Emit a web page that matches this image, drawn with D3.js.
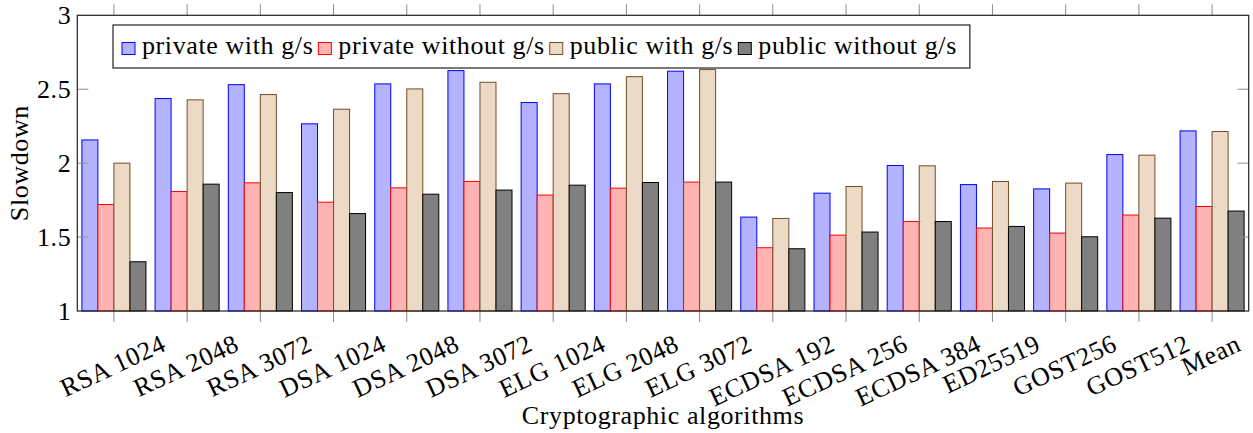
<!DOCTYPE html>
<html>
<head>
<meta charset="utf-8">
<script src="https://cdn.jsdelivr.net/npm/d3@7"></script>
<style>
  body { margin: 0; background: #fff; }
  svg { display: block; }
  text { font-family: "Liberation Serif", "DejaVu Serif", serif; fill: #000; letter-spacing: 0.6px; }
</style>
</head>
<body>
<svg id="chart"></svg>
<script>
// data
const categories = ['RSA 1024', 'RSA 2048', 'RSA 3072', 'DSA 1024', 'DSA 2048', 'DSA 3072',
  'ELG 1024', 'ELG 2048', 'ELG 3072', 'ECDSA 192', 'ECDSA 256', 'ECDSA 384',
  'ED25519', 'GOST256', 'GOST512', 'Mean'];
const seriesNames = ['private with g/s', 'private without g/s', 'public with g/s', 'public without g/s'];
const privateWith = [2.157, 2.437, 2.531, 2.266, 2.536, 2.626, 2.410, 2.536, 2.622, 1.635, 1.797, 1.984, 1.855, 1.826, 2.058, 2.218];
const privateWithout = [1.720, 1.808, 1.867, 1.736, 1.833, 1.876, 1.784, 1.831, 1.872, 1.428, 1.513, 1.605, 1.561, 1.527, 1.649, 1.707];
const publicWith = [2.000, 2.428, 2.464, 2.365, 2.502, 2.547, 2.470, 2.585, 2.633, 1.626, 1.842, 1.982, 1.876, 1.865, 2.054, 2.214];
const publicWithout = [1.333, 1.858, 1.801, 1.659, 1.790, 1.818, 1.851, 1.869, 1.872, 1.421, 1.534, 1.605, 1.572, 1.502, 1.628, 1.676];
const yTicks = [1, 1.5, 2, 2.5, 3];

const seriesValues = [privateWith, privateWithout, publicWith, publicWithout];
// pgfplots default bar cycle
const strokes = ['#0000ff', '#ff0000', '#734d26', '#000000'];
const fills = ['#b3b3ff', '#ffb3b3', '#ecd9c6', '#808080'];

const width = 1253;
const height = 433;
const plotLeft = 77.3, plotRight = 1248.7, plotTop = 15.3, plotBottom = 311;
const fontSize = 26;
const labelAngle = -25;

const svg = d3.select('#chart')
  .attr('width', width)
  .attr('height', height);

const x0 = d3.scaleBand()
  .domain(categories)
  .range([plotLeft, plotRight])
  .paddingInner(0.125)
  .paddingOuter(0.0625);

const x1 = d3.scaleBand()
  .domain(seriesNames)
  .range([0, x0.bandwidth()]);

const y = d3.scaleLinear()
  .domain([1, 3])
  .range([plotBottom, plotTop]);

// bars
const groups = svg.append('g')
  .selectAll('g')
  .data(seriesNames)
  .join('g')
  .attr('fill', (d, i) => fills[i])
  .attr('stroke', (d, i) => strokes[i])
  .attr('stroke-width', 1);

groups.selectAll('rect')
  .data((s, i) => categories.map((c, j) => ({ c, s, v: seriesValues[i][j] })))
  .join('rect')
  .attr('x', d => x0(d.c) + x1(d.s))
  .attr('y', d => y(d.v))
  .attr('width', x1.bandwidth())
  .attr('height', d => y(1) - y(d.v));

// ticks: x outside (top and bottom), y inside (left and right)
const tickLen = 11;
const ticks = svg.append('g').attr('stroke', '#8c8c8c').attr('stroke-width', 1);
categories.forEach(c => {
  const cx = x0(c) + x0.bandwidth() / 2;
  ticks.append('line').attr('x1', cx).attr('x2', cx).attr('y1', plotBottom).attr('y2', plotBottom + tickLen);
  ticks.append('line').attr('x1', cx).attr('x2', cx).attr('y1', plotTop).attr('y2', plotTop - tickLen);
});
yTicks.slice(1, -1).forEach(v => {
  ticks.append('line').attr('x1', plotLeft).attr('x2', plotLeft + tickLen).attr('y1', y(v)).attr('y2', y(v));
  ticks.append('line').attr('x1', plotRight).attr('x2', plotRight - tickLen).attr('y1', y(v)).attr('y2', y(v));
});

// frame
svg.append('rect')
  .attr('x', plotLeft)
  .attr('y', plotTop)
  .attr('width', plotRight - plotLeft)
  .attr('height', plotBottom - plotTop)
  .attr('fill', 'none')
  .attr('stroke', '#222')
  .attr('stroke-width', 1.2);

// y tick labels
svg.append('g')
  .selectAll('text')
  .data(yTicks)
  .join('text')
  .attr('x', plotLeft - 6)
  .attr('y', d => y(d))
  .attr('dy', '0.34em')
  .attr('text-anchor', 'end')
  .style('font-size', fontSize + 'px')
  .text(d => d3.format('~g')(d));

// x tick labels, rotated; top-centre of the rotated box sits under the tick
const xLabels = svg.append('g');
categories.forEach(c => {
  const cx = x0(c) + x0.bandwidth() / 2;
  const g = xLabels.append('g').attr('transform', `translate(${cx},329)`);
  const t = g.append('text')
    .attr('text-anchor', 'middle')
    .style('font-size', fontSize + 'px')
    .attr('transform', `rotate(${labelAngle})`)
    .text(c);
  const b = g.node().getBBox();
  t.attr('transform', `translate(${-(b.x + b.width / 2) - 1},${-b.y}) rotate(${labelAngle})`);
});

// axis titles
svg.append('text')
  .attr('x', (plotLeft + plotRight) / 2)
  .attr('y', 424)
  .attr('text-anchor', 'middle')
  .style('font-size', fontSize + 'px')
  .text('Cryptographic algorithms');

svg.append('text')
  .attr('transform', `translate(28,${(plotTop + plotBottom) / 2}) rotate(-90)`)
  .attr('text-anchor', 'middle')
  .style('font-size', fontSize + 'px')
  .text('Slowdown');

// legend
const legend = svg.append('g').attr('transform', 'translate(113,25)');
const legendBox = legend.append('rect')
  .attr('fill', '#fff')
  .attr('stroke', '#222')
  .attr('stroke-width', 1.2)
  .attr('height', 43);

let lx = 9;
seriesNames.forEach((name, i) => {
  legend.append('rect')
    .attr('x', lx)
    .attr('y', 17.5)
    .attr('width', 13)
    .attr('height', 12)
    .attr('fill', fills[i])
    .attr('stroke', strokes[i])
    .attr('stroke-width', 1);
  const t = legend.append('text')
    .attr('x', lx + 20)
    .attr('y', 29)
    .style('font-size', fontSize + 'px')
    .text(name);
  lx += 20 + t.node().getComputedTextLength() + 5;
});
legendBox.attr('width', lx + 8);
</script>
</body>
</html>
